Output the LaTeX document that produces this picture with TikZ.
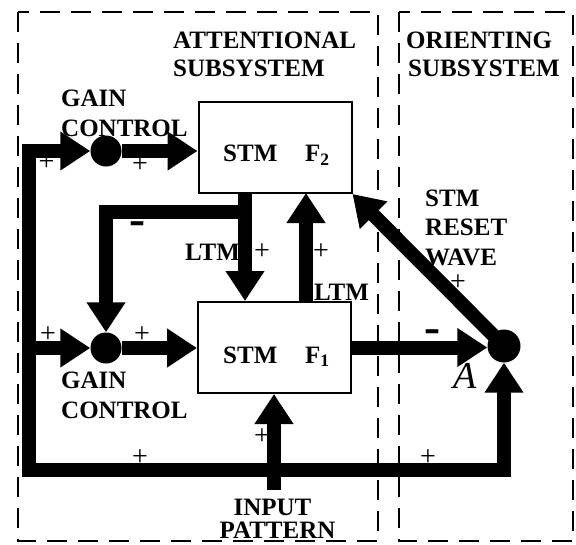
\documentclass[tikz,border=0pt]{standalone}
\usepackage{fontspec}
\setmainfont{Liberation Serif}
\newfontfamily\signfont{DejaVu Sans}
\usetikzlibrary{arrows.meta}
\begin{document}
\begin{tikzpicture}[x=1pt,y=-1pt,
  lbl/.style={font=\bfseries\fontsize{25}{30}\selectfont, inner sep=0pt, anchor=base west},
  sgn/.style={font=\fontsize{28}{28}\selectfont, inner sep=0pt},
  neg/.style={font=\signfont\bfseries\fontsize{32}{32}\selectfont, inner sep=0pt},
  wire/.style={line width=14pt, line join=miter},
  tip/.tip={Triangle[length=30pt,width=37pt]},
  arr/.style={wire, -tip},
  stmbox/.style={draw, line width=2pt, minimum width=153pt, minimum height=91pt, inner sep=0pt},
  junc/.style={circle, fill, minimum size=31pt, inner sep=0pt},
  region/.style={draw, line width=2pt, dash pattern=on 20pt off 11pt}]
\useasboundingbox (0,0) rectangle (576,544);
% subsystem regions
\draw[region] (18,12) rectangle (378,541);
\draw[region] (399,12) rectangle (573,541);
% boxes
\node[stmbox] (F2) at (275,147.5) {};
\node[stmbox] (F1) at (274.5,347.5) {};
\node[lbl] (stmtwo) at (223,161.5) {STM};
\node[lbl] (ftwo) at (305,161.5) {F\textsubscript{2}};
\node[lbl] (stmone) at (223,363) {STM};
\node[lbl] (fone) at (305,363) {F\textsubscript{1}};
% junctions
\node[junc] (gc1) at (106,151) {};
\node[junc] (gc2) at (106,348) {};
\node[junc, minimum size=33pt] (A) at (504,346) {};
% coordinates
\coordinate (busTop) at (28.5,151);
\coordinate (busMid) at (28.5,348);
\coordinate (busBL) at (28.5,470);
\coordinate (busBR) at (504,470);
\coordinate (inStart) at (274,490);
\coordinate (ltmDown) at (245,193);
\coordinate (ltmUp) at (306,193);
\coordinate (branch) at (245,211.5);
\coordinate (branchL) at (106,211.5);
\coordinate (toA) at (350,347.5);
% connectors
\draw[wire, tip-tip] (gc1.west) -- (busTop) -- (busBL) -- (busBR) -- (A.south);
\draw[arr] (gc1.east) -- (gc1.east -| F2.west);
\draw[arr] (busMid) -- (gc2.west);
\draw[arr] (gc2.east) -- (gc2.east -| F1.west);
\draw[arr] (inStart) -- (inStart |- F1.south);
\draw[arr] (ltmDown) -- (ltmDown |- F1.north);
\draw[arr] (branch) -- (branchL) -- (gc2.north);
\draw[arr] (ltmUp |- F1.north) -- (ltmUp);
\draw[arr] (toA) -- (toA -| A.west);
\draw[arr] (A.center) -- (F2.south east);
% titles
\node[lbl] (att1) at (173,48.3) {ATTENTIONAL};
\node[lbl] (att2) at (173,76.5) {SUBSYSTEM};
\node[lbl] (ori1) at (406,48.3) {ORIENTING};
\node[lbl] (ori2) at (408,76.5) {SUBSYSTEM};
\node[lbl] (gain1a) at (61,106.5) {GAIN};
\node[lbl] (gain1b) at (61,136.5) {CONTROL};
\node[lbl] (gain2a) at (61,388.3) {GAIN};
\node[lbl] (gain2b) at (61,418.3) {CONTROL};
\node[lbl] (rst1) at (425,206.5) {STM};
\node[lbl] (rst2) at (425,235) {RESET};
\node[lbl] (rst3) at (425,265) {WAVE};
\node[lbl, anchor=base] (in1) at (272.5,515) {INPUT};
\node[lbl, anchor=base] (in2) at (277.5,538) {PATTERN};
\node[lbl] (ltmL) at (185,260) {LTM};
\node[lbl] (ltmR) at (314,300) {LTM};
\node[font=\itshape\fontsize{38}{38}\selectfont, inner sep=0pt, anchor=base west] (Alab) at (453,388) {A};
% signs
\node[sgn] (p1) at (46.5,162.5) {+};
\node[sgn] (p2) at (140,165) {+};
\node[sgn] (p3) at (48,335) {+};
\node[sgn] (p4) at (142,335) {+};
\node[neg] (m1) at (137,227) {–};
\node[sgn] (p5) at (262,252) {+};
\node[sgn] (p6) at (321,252) {+};
\node[sgn] (p7) at (458,283) {+};
\node[neg] (m2) at (432,335) {–};
\node[sgn] (p8) at (262,437) {+};
\node[sgn] (p9) at (140,458) {+};
\node[sgn] (p10) at (428,458) {+};
\end{tikzpicture}
\end{document}
